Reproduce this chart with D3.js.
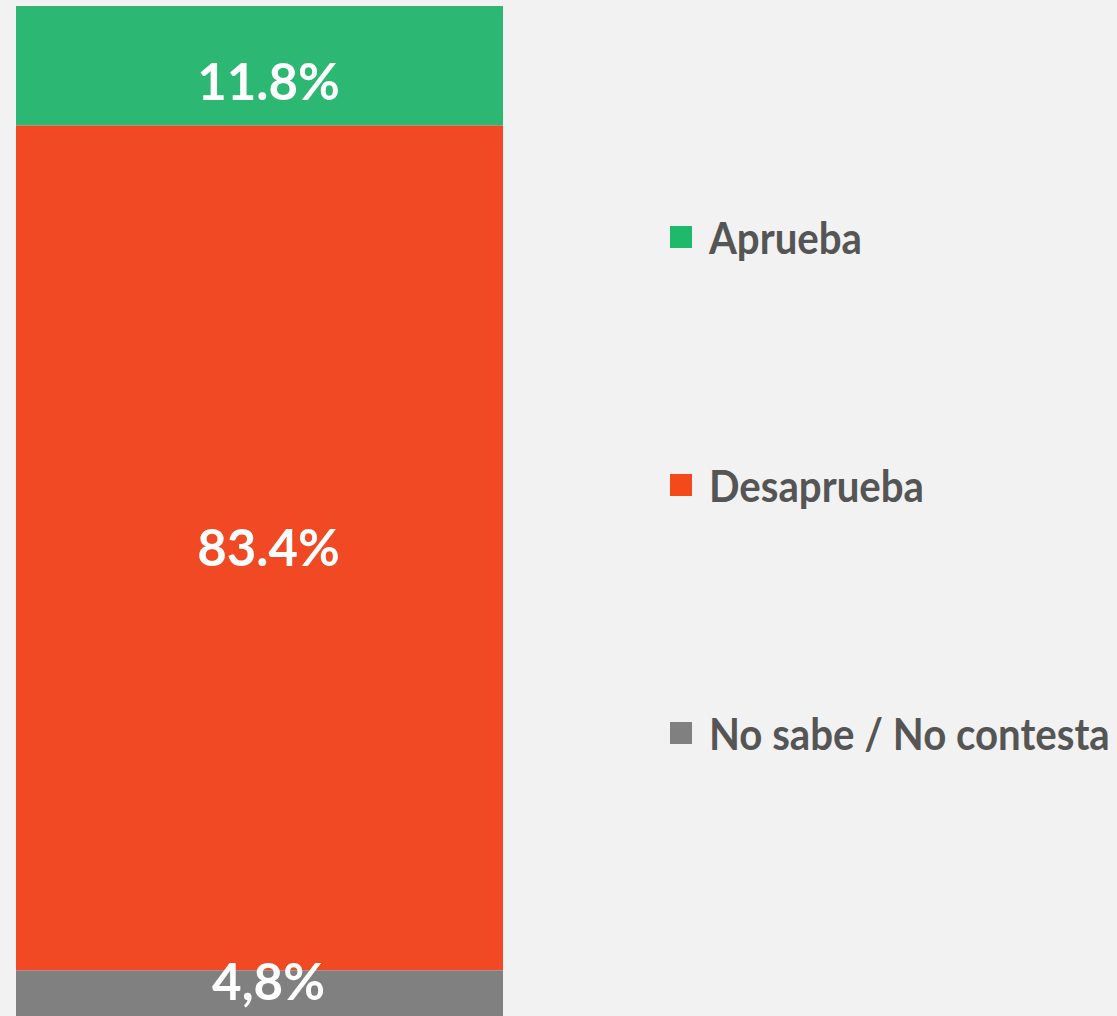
<!DOCTYPE html>
<html>
<head>
<meta charset="utf-8">
<script src="https://cdn.jsdelivr.net/npm/d3@7"></script>
<style>
  html, body { margin: 0; padding: 0; background: #f2f2f2; overflow: hidden; }
  svg { display: block; }
</style>
</head>
<body>
<div id="chart"></div>
<script>
// data
var categories = ["Aprueba", "Desaprueba", "No sabe / No contesta"];
var values = [11.8, 83.4, 4.8];
var valueLabels = ["11.8%", "83.4%", "4,8%"];
var colors = ["#2cb872", "#f04923", "#808080"];
var legendColors = ["#1fb96b", "#f4491a", "#808080"];

var W = 1117, H = 1016;

var svg = d3.select("#chart")
  .append("svg")
  .attr("width", W)
  .attr("height", H);

// stacked 100% bar, top to bottom
var y = d3.scaleLinear().domain([0, 100]).range([6, 1019]);
var x = d3.scaleBand().domain(["all"]).range([16, 503]).padding(0);

var stack = [];
var acc = 0;
values.forEach(function(v, i) {
  stack.push({ name: categories[i], v0: acc, v1: acc + v, label: valueLabels[i], color: colors[i] });
  acc += v;
});

svg.selectAll(".seg")
  .data(stack)
  .enter().append("rect")
  .attr("class", "seg")
  .attr("x", x("all"))
  .attr("width", x.bandwidth())
  .attr("y", function(d) { return y(d.v0); })
  .attr("height", function(d) { return y(d.v1) - y(d.v0); })
  .style("fill", function(d) { return d.color; });

// labels: centred on segment, but kept inside the visible part
svg.selectAll(".lbl")
  .data(stack)
  .enter().append("text")
  .attr("class", "lbl")
  .attr("x", x("all") + x.bandwidth() / 2 + 9)
  .attr("y", function(d) {
    var mid = (y(d.v0) + y(d.v1)) / 2;
    mid = Math.max(mid, y(d.v0) + 76);
    mid = Math.min(mid, H - 34);
    return mid;
  })
  .attr("dy", "0.36em")
  .attr("text-anchor", "middle")
  .attr("font-family", "Lato, 'Open Sans', sans-serif")
  .attr("font-weight", "bold")
  .attr("font-size", "51px")
  .style("fill", "#fff")
  .text(function(d) { return d.label; });

// legend
var legendY = d3.scalePoint().domain(categories).range([226, 722]);

var legend = svg.selectAll(".legend")
  .data(categories)
  .enter().append("g")
  .attr("class", "legend")
  .attr("transform", function(d) { return "translate(670," + legendY(d) + ")"; });

legend.append("rect")
  .attr("width", 22)
  .attr("height", 22)
  .style("fill", function(d, i) { return legendColors[i]; });

// text is squeezed a little to get the narrow look of the original face
legend.append("text")
  .attr("transform", "translate(39,28) scale(0.935,1)")
  .attr("font-family", "Lato, 'Open Sans', sans-serif")
  .attr("font-weight", "bold")
  .attr("font-size", "43px")
  .style("fill", "#555555")
  .text(function(d) { return d; });
</script>
</body>
</html>
